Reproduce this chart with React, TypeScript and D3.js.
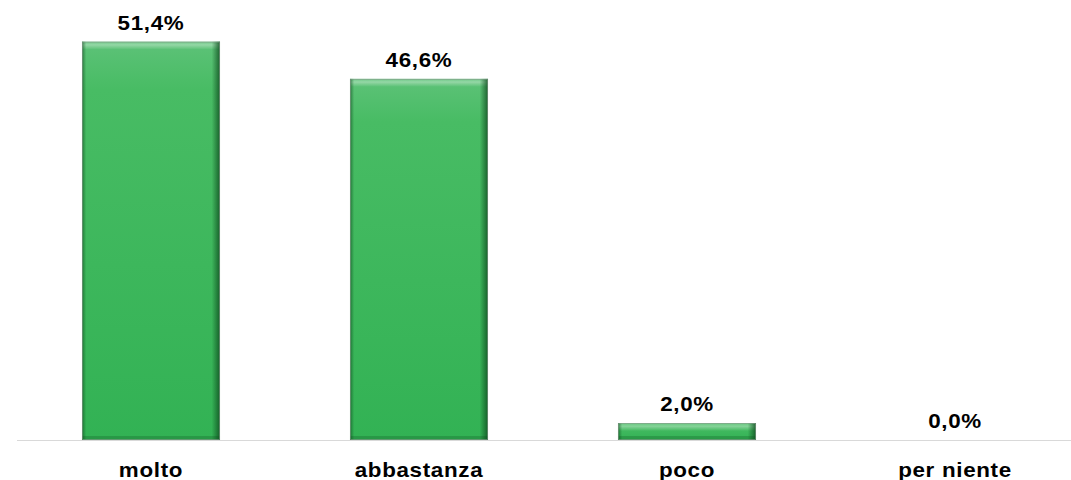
import { useEffect, useRef } from 'react';
import * as d3 from 'd3';

const categories = ['molto', 'abbastanza', 'poco', 'per niente'];
const values = [51.4, 46.6, 2.0, 0.0];
const valueLabels = ['51,4%', '46,6%', '2,0%', '0,0%'];

export default function App() {
  const svgRef = useRef<SVGSVGElement>(null);

  useEffect(() => {
    if (!svgRef.current) return;
    const width = 1071;
    const height = 480;
    const baseline = 440;

    const root = d3.select(svgRef.current);
    root.selectAll('*').remove();
    root.attr('width', width).attr('height', height);

    const defs = root.append('defs');

    // body: lighter at the top, fading down to the main green
    const vert = defs.append('linearGradient').attr('id', 'barV')
      .attr('x1', 0).attr('y1', 0).attr('x2', 0).attr('y2', 1);
    vert.append('stop').attr('offset', '0%').attr('stop-color', '#5dc278');
    vert.append('stop').attr('offset', '12%').attr('stop-color', '#48bc64');
    vert.append('stop').attr('offset', '100%').attr('stop-color', '#32b254');

    // dark side edges
    const horiz = defs.append('linearGradient').attr('id', 'barH')
      .attr('x1', 0).attr('y1', 0).attr('x2', 1).attr('y2', 0);
    horiz.append('stop').attr('offset', '0%').attr('stop-color', '#0d4a1d').attr('stop-opacity', 0.6);
    horiz.append('stop').attr('offset', '3%').attr('stop-color', '#0d4a1d').attr('stop-opacity', 0);
    horiz.append('stop').attr('offset', '94%').attr('stop-color', '#0d4a1d').attr('stop-opacity', 0);
    horiz.append('stop').attr('offset', '100%').attr('stop-color', '#0d4a1d').attr('stop-opacity', 0.8);

    // top highlight
    const top = defs.append('linearGradient').attr('id', 'barTop')
      .attr('x1', 0).attr('y1', 0).attr('x2', 0).attr('y2', 1);
    top.append('stop').attr('offset', '0%').attr('stop-color', '#ffffff').attr('stop-opacity', 0.1);
    top.append('stop').attr('offset', '40%').attr('stop-color', '#ffffff').attr('stop-opacity', 0.35);
    top.append('stop').attr('offset', '100%').attr('stop-color', '#ffffff').attr('stop-opacity', 0);

    const x = d3.scaleBand<string>()
      .domain(categories)
      .range([17, 17 + 4 * 268])
      .paddingInner(0.485)
      .paddingOuter(0.2425);

    const y = d3.scaleLinear()
      .domain([0, 60])
      .range([baseline, baseline - 60 * 7.75]);

    const svg = root.append('g');

    // axis line
    svg.append('line')
      .attr('x1', 17).attr('x2', width)
      .attr('y1', baseline + 0.5).attr('y2', baseline + 0.5)
      .attr('stroke', '#d9d9d9').attr('stroke-width', 1.2);

    const font = 'Liberation Sans, Arial, sans-serif';

    const label = (cx: number, cy: number, txt: string) => {
      svg.append('text')
        .attr('transform', `translate(${cx},${cy}) scale(1.12,1)`)
        .attr('text-anchor', 'middle')
        .attr('font-family', font)
        .attr('font-weight', 'bold')
        .attr('font-size', 20)
        .attr('letter-spacing', 0.6)
        .attr('fill', '#000')
        .text(txt);
    };

    categories.forEach((c, i) => {
      const v = values[i];
      const bx = x(c)!;
      const bw = x.bandwidth();
      let by = y(v);
      if (v > 0 && baseline - by < 17) by = baseline - 17;
      const bh = baseline - by;
      if (bh > 0) {
        const g = svg.append('g');
        g.append('rect').attr('x', bx).attr('y', by).attr('width', bw).attr('height', bh)
          .attr('fill', 'url(#barV)');
        g.append('rect').attr('x', bx).attr('y', by).attr('width', bw).attr('height', Math.min(8, bh / 2))
          .attr('fill', 'url(#barTop)');
        g.append('rect').attr('x', bx).attr('y', by).attr('width', bw).attr('height', bh)
          .attr('fill', 'url(#barH)');
        g.append('rect').attr('x', bx).attr('y', baseline - Math.min(4, bh / 4)).attr('width', bw)
          .attr('height', Math.min(4, bh / 4)).attr('fill', '#0d4a1d').attr('opacity', 0.25);
        g.append('rect').attr('x', bx + 0.5).attr('y', by + 0.5).attr('width', bw - 1).attr('height', bh - 1)
          .attr('fill', 'none').attr('stroke', '#8a9a8e').attr('stroke-width', 1).attr('opacity', 0.6);
      }

      label(bx + bw / 2, by - 12, valueLabels[i]);
      label(bx + bw / 2, 477, c);
    });
  }, []);

  return (
    <div style={{ position: 'absolute', left: 0, top: 0, width: 1071, height: 480, background: '#fff' }}>
      <svg ref={svgRef} style={{ display: 'block' }}></svg>
    </div>
  );
}
